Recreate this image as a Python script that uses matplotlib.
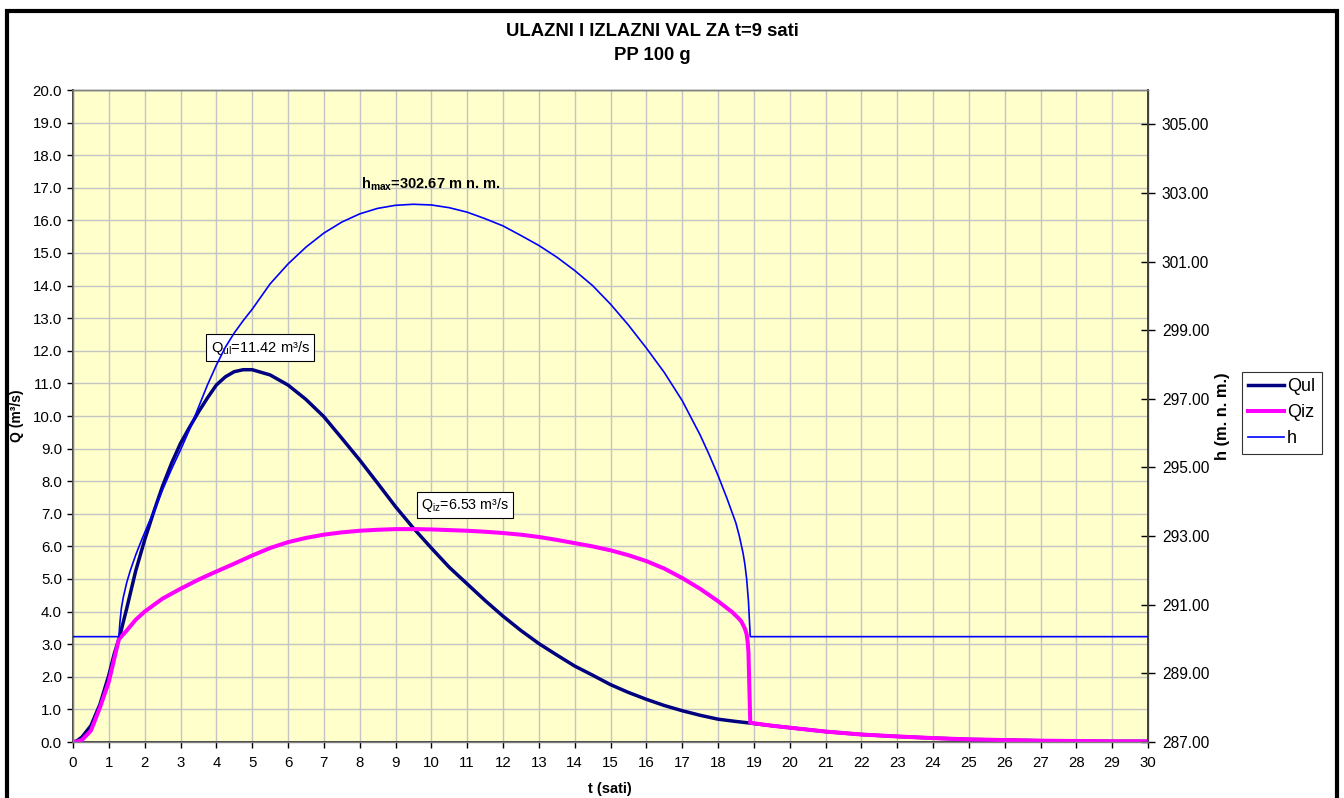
import matplotlib
matplotlib.use("Agg")
import matplotlib.pyplot as plt
from matplotlib.patches import Rectangle
from matplotlib.lines import Line2D

plt.rcParams['font.family'] = ['Liberation Sans', 'DejaVu Sans']
plt.rcParams['mathtext.fontset'] = 'custom'
plt.rcParams['mathtext.rm'] = 'Liberation Sans'
plt.rcParams['mathtext.it'] = 'Liberation Sans:italic'
plt.rcParams['mathtext.bf'] = 'Liberation Sans:bold'

# ---- data ----
t_ul = [0, 0.1, 0.25, 0.5, 0.75, 1.0, 1.15, 1.3, 1.5, 1.75, 2.0, 2.25, 2.5, 2.75, 3.0, 3.25, 3.5,
        3.75, 4.0, 4.25, 4.5, 4.75, 5.0, 5.5, 6.0, 6.5, 7.0, 7.5, 8.0, 8.5, 9.0, 9.5, 10.0, 10.5,
        11, 11.5, 12, 12.5, 13, 13.5, 14, 14.5, 15, 15.5, 16, 16.5, 17, 17.5, 18, 18.5, 18.9,
        19.5, 20, 21, 22, 23, 24, 25, 26, 27, 28, 29, 30]
q_ul = [0, 0.03, 0.15, 0.5, 1.15, 2.05, 2.7, 3.23, 4.1, 5.25, 6.2, 7.05, 7.85, 8.55, 9.16, 9.65, 10.12,
        10.55, 10.95, 11.2, 11.36, 11.42, 11.42, 11.26, 10.95, 10.51, 9.98, 9.32, 8.65, 7.94, 7.22, 6.56, 5.95, 5.36,
        4.85, 4.34, 3.86, 3.42, 3.02, 2.67, 2.33, 2.05, 1.76, 1.52, 1.31, 1.12, 0.96, 0.82, 0.7, 0.63, 0.58,
        0.5, 0.44, 0.32, 0.23, 0.17, 0.12, 0.08, 0.06, 0.04, 0.03, 0.02, 0.02]

t_iz = [0, 0.1, 0.25, 0.5, 0.75, 1.0, 1.15, 1.28, 1.4, 1.5, 1.75, 2.0, 2.25, 2.5, 3.0, 3.5, 4.0, 4.5,
        5.0, 5.5, 6.0, 6.5, 7.0, 7.5, 8.0, 8.5, 9.0, 9.6, 10.0, 10.5, 11, 11.5, 12, 12.5, 13, 13.5,
        14, 14.5, 15, 15.5, 16, 16.5, 17, 17.5, 18, 18.2, 18.4, 18.55, 18.65, 18.75, 18.8, 18.83,
        18.85, 18.9, 19.5, 20, 21, 22, 23, 24, 25, 26, 27, 28, 29, 30]
q_iz = [0, 0.01, 0.06, 0.35, 1.05, 1.85, 2.55, 3.15, 3.3, 3.42, 3.75, 4.0, 4.2, 4.4, 4.7, 4.98, 5.23, 5.47,
        5.72, 5.95, 6.13, 6.26, 6.36, 6.43, 6.48, 6.51, 6.53, 6.53, 6.52, 6.5, 6.48, 6.45, 6.41, 6.36, 6.29, 6.2,
        6.1, 6.0, 5.88, 5.73, 5.55, 5.32, 5.03, 4.7, 4.32, 4.15, 3.98, 3.82, 3.7, 3.48, 3.3, 3.05,
        2.75, 0.59, 0.5, 0.44, 0.32, 0.23, 0.17, 0.12, 0.08, 0.06, 0.04, 0.03, 0.02, 0.02]

t_h = [0, 1.28, 1.31, 1.35, 1.4, 1.5, 1.6, 1.75, 1.9, 2.1, 2.25, 2.5, 2.75, 3.0, 3.25, 3.5, 3.75,
       4.0, 4.25, 4.5, 4.75, 5.0, 5.5, 6.0, 6.5, 7.0, 7.5, 8.0, 8.5, 9.0, 9.5, 10.0, 10.5, 11, 11.5,
       12, 12.5, 13, 13.5, 14, 14.5, 15, 15.5, 16, 16.5, 17, 17.5, 17.75, 18, 18.25, 18.5, 18.6, 18.7,
       18.75, 18.8, 18.85, 18.9, 30]
h_val = [290.07, 290.07, 290.5, 290.9, 291.2, 291.65, 292.0, 292.45, 292.85, 293.35, 293.7, 294.35, 294.95,
         295.51, 296.1, 296.75, 297.4, 297.98, 298.5, 298.92, 299.28, 299.61, 300.35, 300.93, 301.42, 301.83,
         302.15, 302.39, 302.55, 302.64, 302.67, 302.65, 302.57, 302.44, 302.25, 302.04, 301.76, 301.47,
         301.13, 300.74, 300.3, 299.76, 299.15, 298.48, 297.77, 296.95, 295.95, 295.38, 294.77, 294.1, 293.38,
         292.98, 292.5, 292.18, 291.75, 291.1, 290.07, 290.07]

x_ticks = list(range(0, 31))
q_ticks = [i * 1.0 for i in range(0, 21)]
h_ticks = [287 + 2 * i for i in range(0, 10)]

title_lines = ["ULAZNI I IZLAZNI VAL ZA t=9 sati", "PP 100 g"]
series_labels = ["Qul", "Qiz", "h"]

W, H = 1344, 798
fig = plt.figure(figsize=(W / 100, H / 100), dpi=100)
fig.patch.set_facecolor('white')

L, R, T, B = 73, 1148, 90, 742
ax = fig.add_axes([L / W, 1 - B / H, (R - L) / W, (B - T) / H])
ax.set_facecolor('#FFFFCC')
ax2 = ax.twinx()

c_ul, c_iz, c_h = '#000080', '#FF00FF', '#0000FF'
ax.plot(t_ul, q_ul, color=c_ul, lw=2.5, solid_joinstyle='round', zorder=3)
ax.plot(t_iz, q_iz, color=c_iz, lw=2.9, solid_joinstyle='round', zorder=4)
ax2.plot(t_h, h_val, color=c_h, lw=1.2, solid_joinstyle='round', zorder=5)

ax.set_xlim(0, 30)
ax.set_ylim(0, 20)
ax2.set_ylim(287, 306)
ax.set_xticks(x_ticks)
ax.set_xticklabels([str(v) for v in x_ticks])
ax.set_yticks(q_ticks)
ax.set_yticklabels([f"{v:.1f}" for v in q_ticks])
ax2.set_yticks(h_ticks)
ax2.set_yticklabels([f"{v:.2f}" for v in h_ticks])

ax.grid(True, color='#C4C4C4', lw=1.0)
ax.set_axisbelow(True)

ax.tick_params(axis='both', labelsize=10.8, colors='black', length=4, width=1, direction='out')
ax.tick_params(axis='x', pad=6)
ax.tick_params(axis='y', pad=4)
ax2.tick_params(axis='y', labelsize=11.2, colors='black', length=10, width=1, direction='inout', pad=5)

for a in (ax, ax2):
    for s in a.spines.values():
        s.set_color('#808080')
        s.set_linewidth(1.0)
ax.spines['left'].set_color('#404040')
ax.spines['left'].set_linewidth(1.4)
ax.spines['bottom'].set_color('#404040')
ax.spines['bottom'].set_linewidth(1.4)
ax2.spines['right'].set_color('#404040')
ax2.spines['right'].set_linewidth(1.4)

# titles and labels
fig.text(652 / W, 1 - 31 / H, title_lines[0], ha='center', va='center', fontsize=13.3, fontweight='bold')
fig.text(652 / W, 1 - 55 / H, title_lines[1], ha='center', va='center', fontsize=13.3, fontweight='bold')
fig.text(17 / W, 1 - 416 / H, "Q (m³/s)", rotation=90, ha='center', va='center', fontsize=10, fontweight='bold')
fig.text(1222 / W, 1 - 416 / H, "h (m. n. m.)", rotation=90, ha='center', va='center', fontsize=11.8, fontweight='bold')
fig.text(610 / W, 1 - 789 / H, "t (sati)", ha='center', va='center', fontsize=10.5, fontweight='bold')

# annotations
ax.text(9.99, 17.12, r"$\mathbf{h_{max}}$=302.67 m n. m.", ha='center', va='center',
        fontsize=10.5, fontweight='bold')
box = dict(boxstyle='square,pad=0.3', facecolor='white', edgecolor='black', lw=0.8)
ax.text(5.22, 12.1, r"$\mathrm{Q_{ul}}$=11.42 m³/s", ha='center', va='center', fontsize=10.5, bbox=box, zorder=6)
ax.text(10.94, 7.27, r"$\mathrm{Q_{iz}}$=6.53 m³/s", ha='center', va='center', fontsize=10.3, bbox=box, zorder=6)

# legend
handles = [Line2D([], [], color=c_ul, lw=2.5), Line2D([], [], color=c_iz, lw=2.9), Line2D([], [], color=c_h, lw=1.2)]
leg = fig.legend(handles, series_labels, loc='upper left',
                 bbox_to_anchor=(1242 / W, 1 - 372 / H), bbox_transform=fig.transFigure,
                 borderaxespad=0, fontsize=13, frameon=True, fancybox=False,
                 edgecolor='black', handlelength=1.95, handletextpad=0.2,
                 labelspacing=0.5, borderpad=0.35)
leg.get_frame().set_linewidth(0.8)

# outer frame
fig.add_artist(Rectangle((7 / W, -0.02), (1337 - 7) / W, 1.02 - 10.5 / H, transform=fig.transFigure,
                         fill=False, edgecolor='black', lw=3.0, clip_on=False))

fig.savefig("out.png", dpi=100)
